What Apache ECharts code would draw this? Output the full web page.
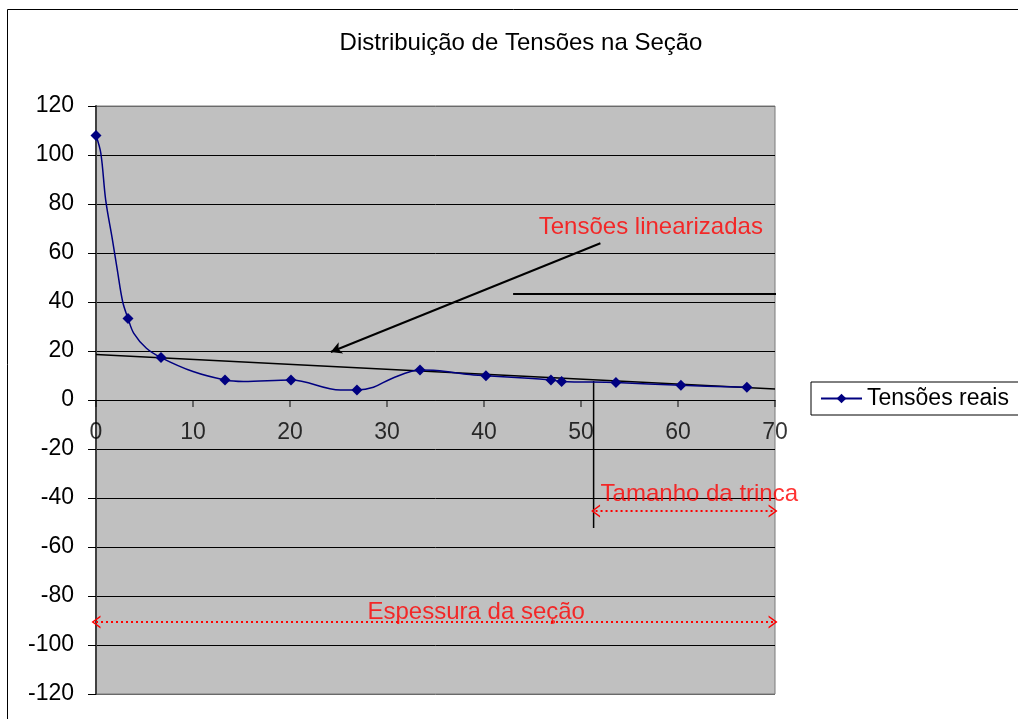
<!DOCTYPE html>
<html>
<head>
<meta charset="utf-8">
<script src="https://cdn.jsdelivr.net/npm/echarts@6/dist/echarts.min.js"></script>
<style>
  html, body { margin: 0; background: #fff; }
  #chart { width: 1018px; height: 719px; }
</style>
</head>
<body>
<div id="chart"></div>
<script>
// Tensões reais - pontos com marcador
const realX = [0, 3.3, 6.7, 13.3, 20.1, 26.9, 33.4, 40.2, 46.9, 48.0, 53.6, 60.3, 67.1];
const realY = [108, 33.3, 17.3, 8.2, 8.2, 4.1, 12.2, 9.9, 8.2, 7.6, 7.1, 6.0, 5.2];
// pontos da curva sem marcador
const curveX = [0.5, 1.0, 1.7, 2.2, 2.75, 3.9, 5.2, 10.0, 15.2, 25.2, 28.6, 30.5, 35.1, 38.2, 43.7];
const curveY = [100.7, 81.6, 65.3, 53, 40.1, 27.2, 21.1, 11.6, 7.6, 4.1, 5.2, 8.8, 12.0, 10.5, 9.1];

// tensões linearizadas e linhas auxiliares
const linearX = [0, 70];
const linearY = [18.6, 4.5];
const refX = [43, 70.4];
const refY = [43.3, 43.3];
const crackX = [51.3, 51.3];
const crackY = [7.8, -52.2];
const arrowFrom = [52, 64];
const arrowTo = [24.2, 19.6];
const crackSpan = [[51.5, -45.3], [69.8, -45.3]];
const thickSpan = [[0, -90.6], [69.8, -90.6]];

// textos
const noteText = ['Tensões linearizadas', 'Tamanho da trinca', 'Espessura da seção'];
const noteX = [57.2, 62.2, 39.2];
const noteY = [70.6, -38.4, -86.5];

const xTicks = [0, 70, 10];
const yTicks = [-120, 120, 20];
const xLabels = [0, 10, 20, 30, 40, 50, 60, 70];

const FONT = 'Liberation Sans, Arial, sans-serif';

let pts = [];
realX.forEach((x, i) => pts.push({ value: [x, realY[i]] }));
curveX.forEach((x, i) => pts.push({ value: [x, curveY[i]], symbol: 'none' }));
pts.sort((a, b) => a.value[0] - b.value[0]);

const zip = (xs, ys) => xs.map((x, i) => [x, ys[i]]);

let chart = echarts.init(document.getElementById('chart'));
let splitColors = [];
for (let v = yTicks[0]; v <= yTicks[1]; v += yTicks[2]) {
  splitColors.push(v === yTicks[0] || v === yTicks[1] ? '#6a6a6a' : '#000');
}

let option = {
  animation: false,
  graphic: [
    {
      type: 'rect',
      shape: { x: 7.5, y: 9.5, width: 1200, height: 900 },
      style: { fill: 'none', stroke: '#000', lineWidth: 1 },
      silent: true
    },
    {
      type: 'text',
      x: 521,
      y: 43,
      style: {
        text: 'Distribuição de Tensões na Seção',
        fill: '#000',
        font: '24px ' + FONT,
        align: 'center',
        verticalAlign: 'middle'
      }
    }
  ],
  legend: {
    data: ['Tensões reais'],
    left: 811,
    top: 382,
    padding: [5, 60, 5, 9],
    borderColor: '#000',
    borderWidth: 1,
    backgroundColor: '#fff',
    itemWidth: 41,
    itemHeight: 12,
    textStyle: { fontFamily: FONT, fontSize: 23, color: '#000' }
  },
  grid: {
    left: 96,
    top: 106,
    right: 243,
    bottom: 25,
    containLabel: false,
    outerBoundsMode: 'none',
    show: true,
    backgroundColor: '#c0c0c0',
    borderColor: '#7a7a7a',
    borderWidth: 1
  },
  xAxis: {
    type: 'value',
    min: xTicks[0],
    max: xTicks[1],
    interval: xTicks[2],
    axisLine: { onZero: true, lineStyle: { color: '#000', width: 1 } },
    axisTick: { show: false },
    axisLabel: { show: false },
    splitLine: { show: false }
  },
  yAxis: {
    type: 'value',
    min: yTicks[0],
    max: yTicks[1],
    interval: yTicks[2],
    axisLine: { show: true, onZero: false, lineStyle: { color: '#404040', width: 2 } },
    axisTick: { show: true, length: 8, lineStyle: { color: '#000' } },
    axisLabel: { margin: 22, color: '#000', fontFamily: FONT, fontSize: 23 },
    splitLine: { show: true, lineStyle: { color: splitColors, width: 1 } }
  },
  series: [
    {
      name: 'linearizada',
      type: 'line',
      data: zip(linearX, linearY),
      symbol: 'none',
      silent: true,
      lineStyle: { color: '#000', width: 1.5 },
      z: 3
    },
    {
      name: 'referencia',
      type: 'line',
      data: zip(refX, refY),
      symbol: 'none',
      clip: false,
      silent: true,
      lineStyle: { color: '#000', width: 2 },
      z: 3
    },
    {
      name: 'trinca',
      type: 'line',
      data: zip(crackX, crackY),
      symbol: 'none',
      silent: true,
      lineStyle: { color: '#000', width: 1.5 },
      z: 3,
      markLine: {
        silent: true,
        symbol: ['none', 'arrow'],
        symbolSize: [9, 11],
        label: { show: false },
        lineStyle: { color: '#000', width: 2, type: 'solid' },
        data: [[{ coord: arrowFrom }, { coord: arrowTo }]]
      }
    },
    {
      name: 'cotas',
      type: 'line',
      data: [],
      symbol: 'none',
      silent: true,
      markLine: {
        silent: true,
        symbol: ['path://M0,10 L5,0 L10,10 L8.6,10 L5,2.6 L1.4,10 Z', 'path://M0,10 L5,0 L10,10 L8.6,10 L5,2.6 L1.4,10 Z'],
        symbolSize: [13, 9],
        label: { show: false },
        lineStyle: { color: '#ff0000', width: 2, type: [2, 3] },
        data: [
          [{ coord: crackSpan[0] }, { coord: crackSpan[1] }],
          [{ coord: thickSpan[0] }, { coord: thickSpan[1] }]
        ]
      }
    },
    {
      name: 'Tensões reais',
      type: 'line',
      data: pts,
      smooth: 0.35,
      symbol: 'diamond',
      symbolSize: 11,
      showAllSymbol: true,
      color: '#000080',
      lineStyle: { color: '#000080', width: 1.5 },
      itemStyle: { color: '#000080' },
      z: 5
    },
    {
      // rótulos e marcas do eixo x sobre a linha do zero
      name: 'rotulosX',
      type: 'scatter',
      symbol: 'rect',
      symbolSize: [1.2, 7],
      symbolOffset: [0, 3.5],
      silent: true,
      clip: false,
      itemStyle: { color: '#000' },
      data: xLabels.map(v => [v, 0]),
      label: {
        show: true,
        position: 'bottom',
        distance: 14,
        formatter: p => String(p.value[0]),
        color: '#000',
        fontFamily: FONT,
        fontSize: 23
      },
      z: 4
    },
    {
      name: 'notas',
      type: 'scatter',
      symbolSize: 1,
      silent: true,
      itemStyle: { color: 'transparent' },
      data: noteText.map((t, i) => ({ name: t, value: [noteX[i], noteY[i]] })),
      label: {
        show: true,
        position: 'inside',
        formatter: '{b}',
        color: '#ff0000',
        fontFamily: FONT,
        fontSize: 24
      },
      z: 6
    }
  ]
};
chart.setOption(option);
</script>
</body>
</html>
